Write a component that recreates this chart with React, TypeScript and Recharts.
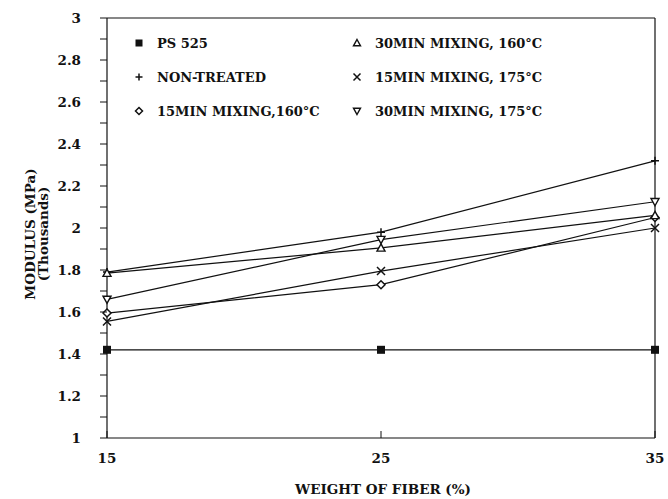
import { LineChart, Line, XAxis, YAxis, ReferenceLine } from 'recharts'

const fiber = [15, 25, 35]
const ps525 = [1.42, 1.42, 1.42]
const nonTreated = [1.79, 1.98, 2.32]
const mix15at160 = [1.595, 1.73, 2.05]
const mix30at160 = [1.785, 1.905, 2.06]
const mix15at175 = [1.555, 1.795, 2.0]
const mix30at175 = [1.66, 1.945, 2.125]

const yTicks = [1, 1.1, 1.2, 1.3, 1.4, 1.5, 1.6, 1.7, 1.8, 1.9, 2, 2.1, 2.2, 2.3, 2.4, 2.5, 2.6, 2.7, 2.8, 2.9, 3]
const xTicks = [15, 25, 35]

const series = [
  { key: 'ps', name: 'PS 525', values: ps525, shape: 'square' },
  { key: 'nt', name: 'NON-TREATED', values: nonTreated, shape: 'plus' },
  { key: 'm15_160', name: '15MIN MIXING,160°C', values: mix15at160, shape: 'diamond' },
  { key: 'm30_160', name: '30MIN MIXING, 160°C', values: mix30at160, shape: 'triUp' },
  { key: 'm15_175', name: '15MIN MIXING, 175°C', values: mix15at175, shape: 'cross' },
  { key: 'm30_175', name: '30MIN MIXING, 175°C', values: mix30at175, shape: 'triDown' },
]

// legend order: left column then right column
const legendLeft = ['ps', 'nt', 'm15_160']
const legendRight = ['m30_160', 'm15_175', 'm30_175']

const data = fiber.map((f, i) => {
  const row: any = { fiber: f }
  series.forEach(s => { row[s.key] = s.values[i] })
  return row
})

const INK = '#111'
const FONT = '"DejaVu Serif", "Liberation Serif", serif'

function Marker({ cx, cy, shape, s = 4 }: { cx: number; cy: number; shape: string; s?: number }) {
  if (cx == null || cy == null) return null
  switch (shape) {
    case 'square':
      return <rect x={cx - s} y={cy - s} width={2 * s} height={2 * s} fill={INK} />
    case 'plus':
      return <path d={`M${cx - s},${cy}H${cx + s}M${cx},${cy - s}V${cy + s}`} stroke={INK} strokeWidth={1.5} fill="none" />
    case 'diamond':
      return <path d={`M${cx},${cy - s}L${cx + s},${cy}L${cx},${cy + s}L${cx - s},${cy}Z`} stroke={INK} strokeWidth={1.5} fill="#fff" />
    case 'triUp':
      return <path d={`M${cx},${cy - s}L${cx + s},${cy + s * 0.8}L${cx - s},${cy + s * 0.8}Z`} stroke={INK} strokeWidth={1.4} fill="#fff" />
    case 'cross':
      return <path d={`M${cx - s},${cy - s}L${cx + s},${cy + s}M${cx + s},${cy - s}L${cx - s},${cy + s}`} stroke={INK} strokeWidth={1.5} fill="none" />
    case 'triDown':
      return <path d={`M${cx},${cy + s}L${cx + s},${cy - s * 0.8}L${cx - s},${cy - s * 0.8}Z`} stroke={INK} strokeWidth={1.4} fill="#fff" />
  }
  return null
}

function YTick(props: any) {
  const { x, y, payload } = props
  const v = payload.value
  const major = Math.round(v * 10) % 2 === 0
  return (
    <g>
      <line x1={x - 7} x2={x} y1={y} y2={y} stroke={INK} strokeWidth={1} />
      {major && (
        <text x={x - 26} y={y + 5} textAnchor="end" fontFamily={FONT} fontWeight="bold" fontSize={13.5} fill={INK}>
          {String(v)}
        </text>
      )}
    </g>
  )
}

function XTick(props: any) {
  const { x, y, payload } = props
  return (
    <g>
      <line x1={x} x2={x} y1={y} y2={y - 7} stroke={INK} strokeWidth={1} />
      <text x={x} y={y + 25} textAnchor="middle" fontFamily={FONT} fontWeight="bold" fontSize={13.5} fill={INK}>
        {String(payload.value)}
      </text>
    </g>
  )
}

function LegendBox() {
  const col = (keys: string[]) => (
    <div style={{ display: 'flex', flexDirection: 'column', gap: 16 }}>
      {keys.map(k => {
        const s = series.find(q => q.key === k)!
        return (
          <div key={k} style={{ display: 'flex', alignItems: 'center', height: 18 }}>
            <svg width={18} height={18} style={{ marginRight: 9 }}>
              <Marker cx={9} cy={9} shape={s.shape} s={3.5} />
            </svg>
            <span style={{ fontFamily: FONT, fontWeight: 'bold', fontSize: 13, color: INK, whiteSpace: 'nowrap' }}>{s.name}</span>
          </div>
        )
      })}
    </div>
  )
  return (
    <div style={{ position: 'absolute', left: 130, top: 34, display: 'flex' }}>
      <div style={{ width: 218 }}>{col(legendLeft)}</div>
      <div>{col(legendRight)}</div>
    </div>
  )
}

export default function App() {
  return (
    <div style={{ position: 'absolute', left: 0, top: 0, width: 668, height: 499, background: '#fff' }}>
      <LineChart width={668} height={499} data={data} margin={{ top: 18, right: 13, bottom: 0, left: 0 }}>
        <XAxis
          dataKey="fiber"
          type="number"
          domain={[15, 35]}
          ticks={xTicks}
          height={61}
          tickSize={0}
          tickMargin={0}
          tickLine={false}
          tick={<XTick />}
          axisLine={{ stroke: INK, strokeWidth: 1.2 }}
          label={{
            content: (p: any) => {
              const vb = p.viewBox
              return (
                <text x={vb.x + vb.width / 2 + 2} y={vb.y + 56} textAnchor="middle" fontFamily={FONT} fontWeight="bold" fontSize={13.5} fill={INK}>
                  WEIGHT OF FIBER (%)
                </text>
              )
            },
          }}
        />
        <YAxis
          type="number"
          domain={[1, 3]}
          ticks={yTicks}
          width={107}
          tickSize={0}
          tickMargin={0}
          tickLine={false}
          tick={<YTick />}
          interval={0}
          axisLine={{ stroke: INK, strokeWidth: 1.2 }}
          label={{
            content: (p: any) => {
              const vb = p.viewBox
              const cy = vb.y + vb.height / 2 + 6
              return (
                <g fontFamily={FONT} fontWeight="bold" fontSize={13.5} fill={INK}>
                  <text x={35} y={cy} textAnchor="middle" transform={`rotate(-90 35 ${cy})`}>MODULUS (MPa)</text>
                  <text x={48} y={cy} textAnchor="middle" transform={`rotate(-90 48 ${cy})`}>(Thousands)</text>
                </g>
              )
            },
          }}
        />
        <ReferenceLine y={3} stroke={INK} strokeWidth={1.2} ifOverflow="extendDomain" />
        <ReferenceLine x={35} stroke={INK} strokeWidth={1.2} ifOverflow="extendDomain" />
        {series.map(s => (
          <Line
            key={s.key}
            dataKey={s.key}
            name={s.name}
            stroke={INK}
            strokeWidth={1.2}
            isAnimationActive={false}
            dot={(p: any) => <Marker key={`${s.key}-${p.index}`} cx={p.cx} cy={p.cy} shape={s.shape} />}
            activeDot={false}
          />
        ))}
      </LineChart>
      <LegendBox />
    </div>
  )
}
